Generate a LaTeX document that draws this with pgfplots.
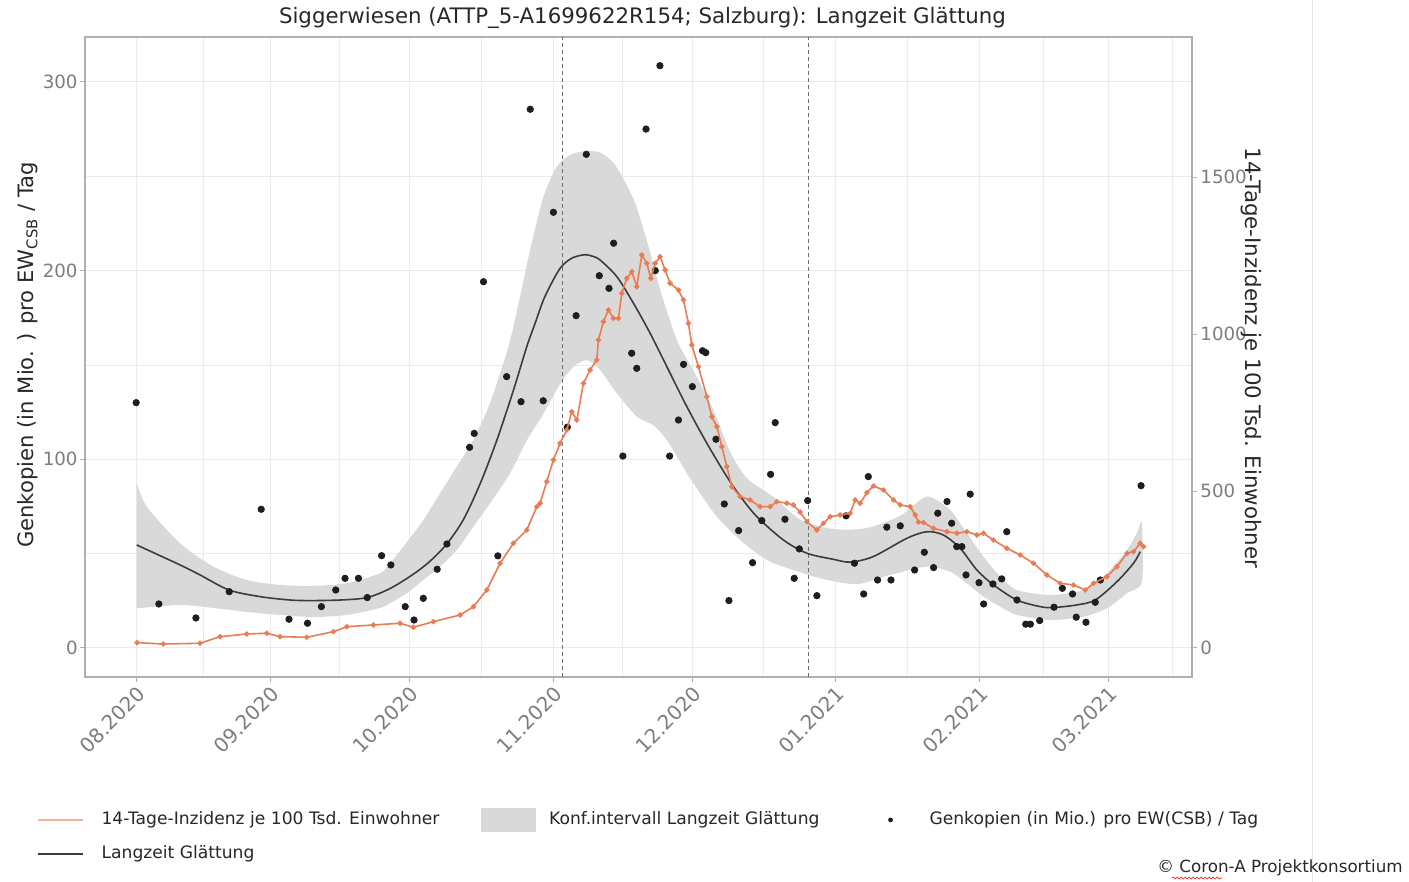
\documentclass[border=0pt]{standalone}
\usepackage{fontspec}
\setmainfont{DejaVu Sans}
\usepackage{pgfplots}
\usepackage{pgfplotstable}
\pgfplotsset{compat=1.18}
\usetikzlibrary{decorations.pathmorphing}

\definecolor{bandcol}{RGB}{217,217,217}
\definecolor{smoothcol}{RGB}{60,60,60}
\definecolor{dotcol}{RGB}{30,30,30}
\definecolor{orangecol}{RGB}{232,125,85}
\definecolor{gridcol}{RGB}{235,235,235}
\definecolor{bordercol}{RGB}{175,175,175}
\definecolor{tickcol}{RGB}{125,125,125}
\definecolor{txtcol}{RGB}{40,40,40}
\definecolor{vlinecol}{RGB}{110,110,110}
\definecolor{sepcol}{RGB}{230,230,230}

\pgfplotstableread{
x y
2.3 130
7.2 23.3
15.2 15.9
22.4 29.8
29.3 73.5
35.3 15.2
39.3 13.1
42.3 21.9
45.4 30.7
47.4 36.9
50.3 36.9
52.2 26.7
55.3 48.9
57.3 44.0
60.4 21.9
62.3 14.8
64.3 26.3
67.3 41.7
69.4 55.1
74.3 106.3
75.3 113.7
77.3 194.1
80.4 48.8
82.3 143.8
85.4 130.5
87.4 285.5
90.2 131.0
92.4 230.9
95.4 117.0
97.3 176.1
99.5 261.6
102.3 197.3
104.4 190.6
105.4 214.5
107.4 101.7
109.3 156.2
110.4 148.2
112.4 275.0
114.4 200.0
115.4 308.6
117.5 101.7
119.4 120.8
120.5 150.3
122.4 138.5
124.6 157.5
125.3 156.5
127.5 110.6
129.3 76.3
130.3 25.1
132.4 62.2
135.4 45.2
137.4 67.5
139.3 92.0
140.3 119.4
142.4 68.2
144.4 36.9
145.5 52.5
147.3 78.1
149.3 27.7
155.6 70.0
157.4 44.9
159.4 28.6
160.4 90.8
162.4 36.0
164.4 64.0
165.3 36.0
167.3 64.7
170.4 41.3
172.5 50.7
174.5 42.6
175.4 71.4
177.4 77.6
178.4 66.1
179.5 53.7
180.6 53.7
181.5 38.7
182.4 81.5
184.3 34.6
185.3 23.3
187.3 33.9
189.2 36.6
190.3 61.6
192.5 25.4
194.4 12.6
195.4 12.6
197.4 14.5
200.5 21.6
202.3 31.6
204.5 28.6
205.3 16.3
207.4 13.6
209.4 24.2
210.5 36.0
219.3 86.0
}\dotdata

\pgfplotstableread{
x y
2.42 54.6
7.45 48.9
11.77 44.0
16.09 38.7
22.35 30.7
29.05 27.2
35.53 25.4
39.85 25.1
46.33 25.4
52.16 26.7
57.13 31.5
62.10 39.0
65.77 46.0
69.37 55.1
72.96 68.0
76.57 87.0
80.17 110.0
83.76 136.5
86.65 159.7
88.44 172.0
90.24 184.4
92.05 193.6
93.84 201.2
95.29 204.8
96.72 207.0
98.16 208.0
99.46 208.4
100.97 207.5
102.48 205.6
106.09 196.8
109.68 182.7
113.28 166.8
116.89 149.1
121.21 127.9
125.53 108.5
129.85 90.8
132.72 80.5
136.33 69.6
142.07 57.2
147.13 50.2
152.81 47.0
156.48 45.5
161.45 48.4
168.73 58.1
173.04 61.6
176.57 59.9
180.24 52.8
183.85 41.3
187.43 33.4
192.48 25.4
197.52 21.9
200.32 21.4
205.44 22.8
209.40 25.4
214.08 35.1
217.67 44.9
219.11 51.0
}\smoothdata

% confidence band: upper edge left to right, then lower edge right to left
\pgfplotstableread{
x y
2.42 87.3
4.58 74.9
11.77 55.5
18.96 43.1
26.18 36.0
33.37 33.4
40.56 32.9
47.78 34.3
54.97 39.6
57.13 44.9
60.73 56.0
64.32 67.8
67.93 82.0
71.53 96.1
75.12 110.2
78.73 130.0
83.05 163.0
87.37 210.9
90.24 239.0
93.13 255.1
96.00 261.3
99.24 263.3
102.48 262.5
105.72 256.0
109.68 238.0
112.57 216.0
115.44 190.0
119.05 163.2
122.63 147.0
126.96 126.0
130.56 104.0
134.17 90.0
139.91 80.0
145.68 68.0
152.81 63.0
159.94 63.5
167.28 70.0
173.04 80.2
178.08 73.1
181.68 60.8
185.27 48.4
188.88 37.8
192.48 30.7
199.68 28.1
206.87 30.7
211.92 39.6
216.24 51.9
218.40 60.8
219.48 66.1
219.48 35.1
216.24 29.0
211.92 21.0
206.87 16.6
199.68 14.8
192.48 17.5
188.88 21.9
185.27 27.2
181.68 34.3
178.08 40.4
173.04 43.1
165.12 38.7
157.93 33.8
150.71 36.5
144.23 41.3
138.49 46.6
132.72 57.2
127.69 69.6
124.08 82.0
121.21 92.6
116.89 110.2
113.99 118.0
110.41 122.6
106.09 135.0
102.48 147.3
99.61 152.6
96.72 149.0
93.84 140.0
90.24 124.0
86.65 110.0
83.05 92.6
78.73 76.7
75.12 64.3
71.53 51.9
67.93 43.1
64.32 36.0
60.73 29.0
57.13 23.7
54.97 21.2
47.78 17.5
40.56 16.4
33.37 17.5
26.18 19.1
18.96 21.2
11.77 22.8
2.42 21.0
}\banddata

\pgfplotstableread{
x y
2.48 16.9
8.16 12.7
16.09 15.0
20.41 36.1
26.18 44.6
30.50 46.8
33.37 36.1
39.14 34.1
44.88 51.9
47.78 67.8
53.52 73.3
59.29 78.7
62.16 65.9
66.48 83.8
72.25 105.1
75.12 131.5
78.01 184.7
80.89 269.8
83.76 333.5
86.65 375.8
88.81 450.0
89.52 461.0
90.97 530.0
92.40 598.8
93.84 652.0
95.29 694.3
96.37 752.6
97.45 726.2
98.88 843.0
100.32 885.4
101.77 917.3
102.12 981.0
103.20 1039.3
104.28 1076.5
105.36 1050.0
106.44 1050.0
107.17 1129.7
108.25 1177.5
109.33 1198.5
110.41 1150.7
111.49 1251.7
112.57 1225.3
113.43 1177.5
114.36 1225.3
115.44 1246.3
116.52 1204.0
117.60 1161.6
119.39 1140.3
120.48 1108.4
121.56 1034.2
122.29 965.0
123.71 896.0
125.53 800.4
126.61 736.7
127.69 704.8
128.77 641.1
129.85 577.4
130.93 513.7
132.72 481.9
134.88 471.4
137.04 450.0
139.20 450.0
140.65 466.0
142.81 461.2
144.23 455.5
145.68 433.0
147.13 402.3
149.29 375.8
150.71 397.2
152.16 418.2
154.32 423.6
156.48 429.0
157.56 471.4
158.64 460.9
160.09 495.0
161.51 516.0
163.67 503.2
165.83 471.4
167.28 455.5
169.44 450.0
170.52 423.6
171.23 401.0
172.31 399.7
174.47 381.0
177.37 370.4
179.52 365.3
181.68 370.4
183.85 359.9
185.27 365.3
187.43 344.0
190.32 317.5
193.20 296.2
196.07 269.8
198.96 232.5
201.84 206.1
204.71 200.7
207.24 184.7
209.03 206.1
211.92 227.1
214.08 258.9
216.24 301.6
217.67 306.7
219.11 333.5
219.83 322.6
}\inciddata

\begin{document}
\begin{tikzpicture}
\path[use as bounding box] (0,0) rectangle (704.5bp,441bp);
\fill[white] (0,0) rectangle (704.5bp,441bp);
\draw[sepcol, line width=0.5bp] (656bp,0bp) -- (656bp,441bp);

\begin{axis}[
  at={(42.5bp,102.5bp)}, anchor=south west,
  scale only axis, width=553.5bp, height=320bp,
  xmin=-8.75, xmax=230.3, ymin=-15.4, ymax=323.8,
  axis line style={bordercol, line width=0.6bp},
  xtick={2.27,31.21,61.23,92.33,122.35,153.24,184.34,212.2},
  xticklabels={08.2020,09.2020,10.2020,11.2020,12.2020,01.2021,02.2021,03.2021},
  minor xtick={16.7,46.2,76.8,107.3,137.8,168.8,198.3,226.1},
  ytick={0,100,200,300}, yticklabels={0,100,200,300},
  minor ytick={50,150,250},
  grid=both,
  major grid style={gridcol, line width=0.5bp},
  minor grid style={gridcol, line width=0.35bp},
  tick align=outside, tick pos=left,
  major tick length=2.5bp, minor tick length=0pt,
  tick style={bordercol, line width=0.5bp},
  xticklabel style={rotate=45, anchor=north east, font=\fontsize{10}{12}\selectfont, text=tickcol, inner sep=1bp},
  yticklabel style={font=\fontsize{9.15}{11}\selectfont, text=tickcol, inner sep=1bp},
]
\addplot[fill=bandcol, draw=none, smooth, tension=0.45, forget plot] table {\banddata};
\addplot[vlinecol, line width=0.5bp, dash pattern=on 2bp off 1.5bp, forget plot] coordinates {(94.28,-15.4) (94.28,323.8)};
\addplot[vlinecol, line width=0.5bp, dash pattern=on 2bp off 1.5bp, forget plot] coordinates {(147.4,-15.4) (147.4,323.8)};
\addplot[smoothcol, line width=0.8bp, smooth, tension=0.5, forget plot] table {\smoothdata};
\addplot[only marks, mark=*, mark size=1.6bp, dotcol, forget plot] table {\dotdata};
\end{axis}

\begin{axis}[
  at={(42.5bp,102.5bp)}, anchor=south west,
  scale only axis, width=553.5bp, height=320bp,
  xmin=-8.75, xmax=230.3, ymin=-92.4, ymax=1946,
  axis x line=none, axis y line*=right,
  axis line style={bordercol, line width=0.6bp},
  ytick={0,500,1000,1500}, yticklabels={0,500,1000,1500},
  tick align=outside, major tick length=2.5bp,
  tick style={bordercol, line width=0.5bp},
  yticklabel style={font=\fontsize{9.15}{11}\selectfont, text=tickcol, inner sep=1.5bp},
  legend columns=3,
  legend cell align=left,
  legend image code/.code={\draw[#1] (0bp,0bp) -- (22.5bp,0bp);},
  legend style={
    at={(axis description cs:-0.04336,-0.2047)}, anchor=north west,
    draw=none, fill=none, inner sep=0pt, outer sep=0pt,
    font=\fontsize{8.6}{10}\selectfont, text=txtcol,
    row sep=7bp,
    nodes={inner sep=0pt},
    /tikz/column 1/.style={column sep=9bp},
    /tikz/column 2/.style={column sep=21bp},
    /tikz/column 3/.style={column sep=6.5bp},
    /tikz/column 4/.style={column sep=24.25bp},
    /tikz/column 5/.style={column sep=8.25bp},
  },
]
\addplot[orangecol, line width=0.8bp, mark=*, mark size=0.9bp, mark options={fill=orangecol, draw=orangecol}, forget plot] table {\inciddata};
\addlegendimage{orangecol!60, line width=0.7bp}
\addlegendentry{14-Tage-Inzidenz je 100 Tsd. Einwohner}
\addlegendimage{legend image code/.code={\fill[bandcol] (0bp,-5.75bp) rectangle (27bp,5.75bp);}}
\addlegendentry{Konf.intervall Langzeit Glättung}
\addlegendimage{legend image code/.code={\path[draw=none,fill=none] (0bp,0bp) -- (22.5bp,0bp); \fill[dotcol, draw=none] (11.25bp,0bp) circle (1.2bp);}}
\addlegendentry{Genkopien (in Mio.) pro EW(CSB) / Tag}
\addlegendimage{smoothcol, line width=0.8bp}
\addlegendentry{Langzeit Glättung}
\end{axis}

\node[font=\fontsize{10.7}{12}\selectfont, text=txtcol] at (321.25bp,432bp) {Siggerwiesen (ATTP\_5-A1699622R154; Salzburg): Langzeit Glättung};
\node[rotate=90, font=\fontsize{10.6}{12}\selectfont, text=txtcol] at (14bp,263.5bp) {Genkopien (in Mio. ) pro EW\textsubscript{CSB} / Tag};
\node[rotate=-90, font=\fontsize{10.7}{12}\selectfont, text=txtcol] at (625.5bp,262bp) {14-Tage-Inzidenz je 100 Tsd. Einwohner};
\node[font=\fontsize{8.4}{10}\selectfont, text=txtcol] at (640bp,7bp) {© Coron-A Projektkonsortium};
\draw[red, line width=0.3bp, decorate, decoration={snake, amplitude=0.5bp, segment length=2bp}] (586bp,2bp) -- (611bp,2bp);
\end{tikzpicture}
\end{document}
